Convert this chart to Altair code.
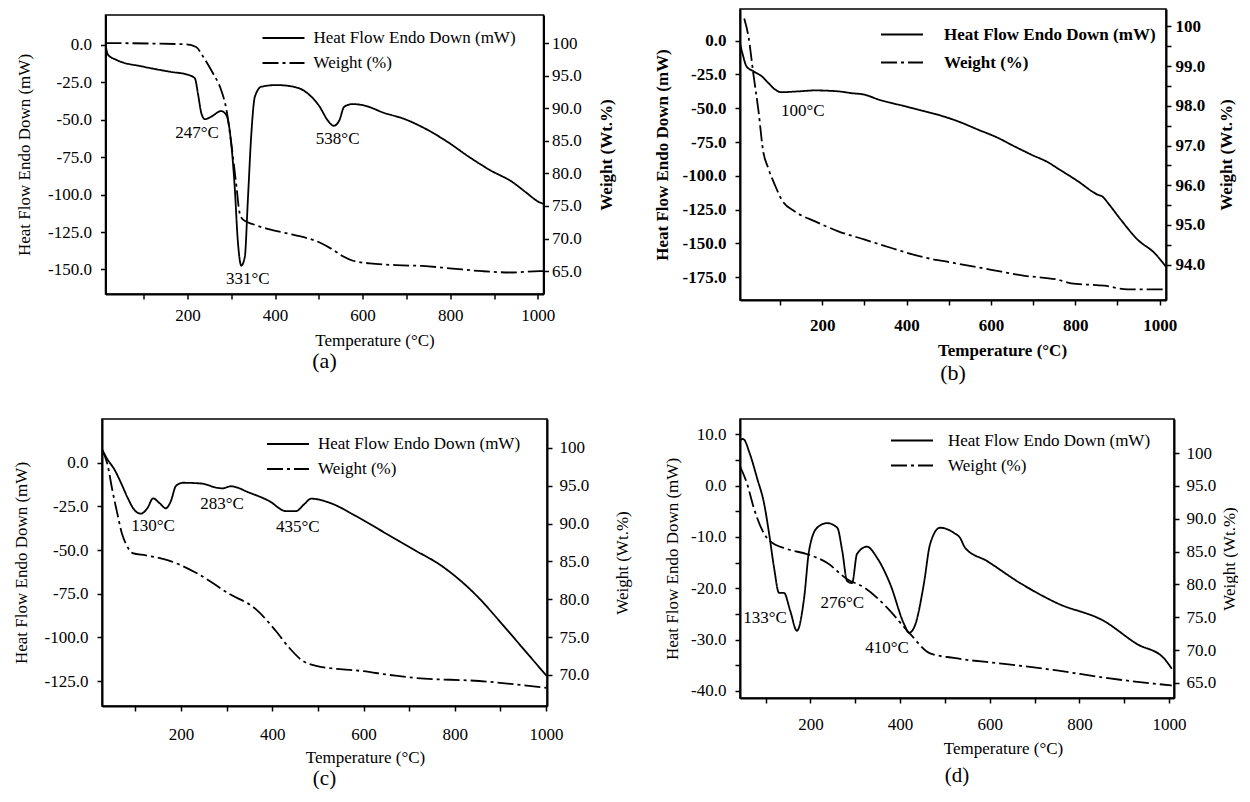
import altair as alt
import pandas as pd

FONT = "Liberation Serif"
HF_NAME = "Heat Flow Endo Down (mW)"
WT_NAME = "Weight (%)"
X_TITLE = "Temperature (°C)"
Y_LEFT_TITLE = "Heat Flow Endo Down (mW)"
Y_RIGHT_TITLE = "Weight (Wt.%)"
MINUS = "\u2212"

x_tick_values = [100, 200, 300, 400, 500, 600, 700, 800, 900, 1000]

# ---------------- panel (a) ----------------
a_hf_T = [13, 19, 38, 99, 160, 202, 217, 224, 232, 240, 254, 277, 289, 300, 308, 315, 323, 331, 338, 346,
          354, 369, 403, 448, 479, 502, 520, 534, 547, 558, 577, 600, 653, 691, 737, 794, 843, 892, 942,
          972, 1003, 1012]
a_hf_v = [0, -6.7, -10, -14.5, -17.9, -20, -22.3, -32.4, -45.8, -49.6, -48, -44.2, -46.9, -65.9, -94.9,
          -130.6, -147.4, -141.8, -103.8, -59.2, -34.6, -27.9, -26.8, -28.3, -33.5, -41.3, -50.3, -54,
          -50.3, -41.3, -39.5, -40.2, -45.8, -49, -55, -64.8, -74.8, -83.8, -91.6, -98.3, -105, -106]
a_wt_T = [13, 197, 220, 236, 258, 277, 289, 300, 312, 319, 327, 350, 388, 441, 502, 532, 555, 578, 616,
          691, 737, 805, 874, 942, 1003, 1012]
a_wt_v = [100, 99.8, 99.4, 97.9, 95.4, 92.8, 89.8, 84.7, 78, 74, 72.9, 72.2, 71.4, 70.6, 69.4, 68.3, 67.3,
          66.6, 66.2, 65.9, 65.8, 65.4, 65.0, 64.8, 65.0, 65.0]
a_ann_T = [222, 338, 543]
a_ann_v = [-58.8, -156.4, -62.8]
a_ann_text = ["247°C", "331°C", "538°C"]
a_left_ticks = [0, -25, -50, -75, -100, -125, -150]
a_right_ticks = [65, 70, 75, 80, 85, 90, 95, 100]

# ---------------- panel (b) ----------------
b_hf_T = [5, 12.5, 20, 36, 56, 72, 88, 103, 143, 183, 238, 269, 301, 333, 380, 427, 474, 522, 569, 617,
          648, 696, 735, 758, 806, 853, 865, 877, 908, 948, 988, 1014]
b_hf_v = [-2, -11.4, -18.8, -22.5, -26.2, -31.2, -36.1, -38.1, -37.5, -36.8, -37.5, -38.8, -40, -43.5,
          -47.3, -51, -54.8, -59.7, -65.8, -72, -77, -84.4, -90, -94.5, -104, -114, -115.5, -120, -132.6,
          -147.4, -157.3, -167]
b_wt_T = [15, 25, 37, 48.5, 60, 72, 88, 104, 135, 183, 238, 301, 364, 435, 514, 601, 680, 759, 790, 869,
          924, 1014]
b_wt_v = [100.2, 99.75, 98.78, 97.9, 96.85, 96.43, 96.0, 95.63, 95.34, 95.09, 94.84, 94.63, 94.42, 94.2,
          94.04, 93.87, 93.72, 93.62, 93.53, 93.47, 93.38, 93.38]
b_ann_T = [154]
b_ann_v = [-52]
b_ann_text = ["100°C"]
b_left_ticks = [0, -25, -50, -75, -100, -125, -150, -175]
b_right_ticks = [94, 94.5, 95, 95.5, 96, 96.5, 97, 97.5, 98, 98.5, 99, 99.5, 100]

# ---------------- panel (c) ----------------
c_hf_T = [27, 39, 54, 68.5, 83, 97, 112, 127, 139, 152, 167, 178, 189, 204, 247, 277, 291, 309, 350, 393,
          430, 452, 470, 485, 525, 583, 649, 715, 765, 845, 904, 948, 1001]
c_hf_v = [7.7, 1.9, -3.8, -11.5, -20, -26.7, -29.2, -25.8, -20.4, -22.9, -26.1, -21.9, -13.3, -11.5, -12,
          -14.3, -14.7, -13.5, -17.2, -21.9, -27.7, -27.7, -23.8, -20.6, -22.9, -30.5, -40.5, -50.5,
          -58, -75.4, -92.5, -105.9, -122]
c_wt_T = [27, 39, 50, 61, 71, 79.5, 94, 123, 174, 233, 306, 364, 408, 437, 466, 496, 598, 670, 715, 853,
          1001]
c_wt_v = [99.8, 97.8, 94.3, 91.2, 88.6, 87.3, 86.1, 85.8, 85.1, 83.5, 80.7, 78.7, 75.8, 73.6, 71.9, 71.2,
          70.5, 69.9, 69.6, 69.2, 68.3]
c_ann_T = [139, 290, 456]
c_ann_v = [-36.2, -23.6, -36.8]
c_ann_text = ["130°C", "283°C", "435°C"]
c_left_ticks = [0, -25, -50, -75, -100, -125]
c_right_ticks = [70, 75, 80, 85, 90, 95, 100]

# ---------------- panel (d) ----------------
d_hf_T = [43, 50, 65, 81, 97, 108, 119, 130, 141, 155, 170, 186, 197, 215, 237, 260, 271, 282, 293, 304,
          326, 349, 378, 409, 420, 433, 453, 467, 489, 520, 534, 545, 594, 668, 750, 855, 929, 988, 1006]
d_hf_v = [8.9, 9.1, 6.2, 1.5, -3.6, -9.4, -16, -20.9, -20.9, -24.4, -28.3, -21.9, -12.7, -8.2, -7.3, -8.2,
          -12.7, -18.6, -19, -13.3, -11.9, -14.1, -19.2, -27, -28.7, -27.3, -19.2, -11.4, -8.2, -9.2,
          -10.2, -12.1, -14.7, -19, -22.9, -26.4, -30.9, -33.6, -35.7]
d_wt_T = [43, 59, 74, 97, 110, 148, 193, 237, 282, 321, 372, 422, 467, 520, 632, 750, 855, 1006]
d_wt_v = [98.0, 95.3, 91.6, 87.7, 86.6, 85.4, 84.6, 83.3, 80.8, 79.5, 76.4, 72.5, 69.5, 68.8, 67.9, 66.9,
          65.8, 64.6]
d_ann_T = [99, 271, 371]
d_ann_v = [-25.8, -22.9, -31.6]
d_ann_text = ["133°C", "276°C", "410°C"]
d_left_ticks = [10, 5, 0, -5, -10, -15, -20, -25, -30, -35, -40]
d_right_ticks = [65, 70, 75, 80, 85, 90, 95, 100]


def panel(p):
    weight = p.get("weight", "normal")
    hf_df = pd.DataFrame({"T": p["hf_T"], "v": p["hf_v"], "series": HF_NAME})
    wt_df = pd.DataFrame({"T": p["wt_T"], "w": p["wt_v"], "series": WT_NAME})
    ann_df = pd.DataFrame({"T": p["ann_T"], "v": p["ann_v"], "label": p["ann_text"]})

    left_expr = ("datum.value % " + str(p["lmod"]) + " == 0 ? replace(format(datum.value, '.1f'), '"
                 + MINUS + "', '-') : ''")
    right_expr = ("datum.value == 100 ? '100' : (datum.value % " + str(p["rmod"])
                  + " == 0 ? format(datum.value, '.1f') : '')")

    x = alt.X("T:Q", scale=alt.Scale(domain=p["xdom"], nice=False, zero=False),
              axis=alt.Axis(values=x_tick_values,
                            labelExpr="datum.value % 200 == 0 ? format(datum.value, 'd') : ''",
                            title=X_TITLE, titleX=p["xt_x"], titleY=p["xt_y"], titleBaseline="middle",
                            titleAlign="center", labelPadding=p["xlp"],
                            labelFontWeight=weight, titleFontWeight=weight))
    yl = alt.Y("v:Q", scale=alt.Scale(domain=p["ldom"], nice=False, zero=False),
               axis=alt.Axis(orient="left", values=p["lticks"], labelExpr=left_expr,
                             title=Y_LEFT_TITLE, titleX=p["lt_x"], titleBaseline="middle", titleAngle=270,
                             titleAlign="center", labelPadding=9,
                             labelFontWeight=weight, titleFontWeight=weight))
    yr = alt.Y("w:Q", scale=alt.Scale(domain=p["rdom"], nice=False, zero=False),
               axis=alt.Axis(orient="right", values=p["rticks"], labelExpr=right_expr,
                             title=Y_RIGHT_TITLE, titleX=p["rt_x"], titleBaseline="middle", titleAngle=270,
                             titleAlign="center", labelPadding=p["rlp"],
                             labelFontWeight=weight, titleFontWeight=p.get("rtw", weight)))
    sd = alt.StrokeDash(
        "series:N",
        scale=alt.Scale(domain=[HF_NAME, WT_NAME], range=[[1, 0], [16, 4, 3, 4]]),
        legend=alt.Legend(title=None, orient="none", legendX=p["lx"], legendY=p["ly"], direction="vertical",
                          symbolType="stroke", symbolSize=1764, symbolStrokeWidth=2,
                          symbolStrokeColor="black", labelFont=FONT, labelFontSize=17, labelColor="black",
                          labelFontWeight=weight, labelOffset=p["loff"], rowPadding=p["lrow"],
                          clipHeight=17, padding=0, labelLimit=400))

    hf_line = alt.Chart(hf_df).mark_line(color="black", strokeWidth=1.8, interpolate="monotone",
                                         clip=True).encode(x=x, y=yl, strokeDash=sd)
    ann = alt.Chart(ann_df).mark_text(font=FONT, fontSize=17, color="black").encode(
        x=x, y=yl, text="label:N")
    wt_line = alt.Chart(wt_df).mark_line(color="black", strokeWidth=1.8, interpolate="monotone",
                                         clip=True).encode(x=x, y=yr, strokeDash=sd)
    return alt.layer(alt.layer(hf_line, ann), wt_line).resolve_scale(y="independent").properties(
        width=p["w"], height=p["h"],
        title=alt.TitleParams(p["caption"], orient="bottom", font=FONT, fontSize=p.get("cap_fs", 22),
                              fontWeight="normal", color="black", offset=p["cap_off"], anchor="middle"))


pa = panel(dict(hf_T=a_hf_T, hf_v=a_hf_v, wt_T=a_wt_T, wt_v=a_wt_v, ann_T=a_ann_T, ann_v=a_ann_v,
                ann_text=a_ann_text, xdom=[13, 1013], ldom=[-166.4, 20], rdom=[61.5, 104.3],
                lticks=a_left_ticks, rticks=a_right_ticks, lmod=25, rmod=5, w=438, h=279,
                xt_x=269, xt_y=46, xlp=8, lt_x=-81, rt_x=63, rlp=3, lx=156, ly=14.5, lrow=7, loff=8,
                caption="(a)", cap_off=3, rtw="bold"))
pb = panel(dict(hf_T=b_hf_T, hf_v=b_hf_v, wt_T=b_wt_T, wt_v=b_wt_v, ann_T=b_ann_T, ann_v=b_ann_v,
                ann_text=b_ann_text, xdom=[5, 1015], ldom=[-192, 23.5], rdom=[93.11, 100.44],
                lticks=b_left_ticks, rticks=b_right_ticks, lmod=25, rmod=1, w=426, h=291,
                xt_x=262, xt_y=50, xlp=12, lt_x=-78, rt_x=60, rlp=4, lx=140, ly=17, lrow=10, loff=20,
                caption="(b)", cap_off=5, weight="bold"))
pc = panel(dict(hf_T=c_hf_T, hf_v=c_hf_v, wt_T=c_wt_T, wt_v=c_wt_v, ann_T=c_ann_T, ann_v=c_ann_v,
                ann_text=c_ann_text, xdom=[27, 1002], ldom=[-139.3, 25], rdom=[65.9, 103.8],
                lticks=c_left_ticks, rticks=c_right_ticks, lmod=25, rmod=5, w=445, h=287,
                xt_x=263, xt_y=51, xlp=15, lt_x=-81, rt_x=75, rlp=7, lx=164, ly=16.5, lrow=7, loff=8,
                caption="(c)", cap_off=3, cap_fs=21))
pd_ = panel(dict(hf_T=d_hf_T, hf_v=d_hf_v, wt_T=d_wt_T, wt_v=d_wt_v, ann_T=d_ann_T, ann_v=d_ann_v,
                 ann_text=d_ann_text, xdom=[43, 1011], ldom=[-41.4, 13.0], rdom=[62.7, 105.2],
                 lticks=d_left_ticks, rticks=d_right_ticks, lmod=10, rmod=5, w=434, h=279,
                 xt_x=263, xt_y=50, xlp=13, lt_x=-68, rt_x=55, rlp=7, lx=150, ly=13, lrow=7, loff=14,
                 caption="(d)", cap_off=9, cap_fs=21))

chart = alt.concat(
    pa, pb, pc, pd_, columns=2, spacing={"row": 119, "column": 193}, bounds="flush", center=True
).resolve_scale(
    x="independent", y="independent", strokeDash="independent"
).resolve_legend(
    strokeDash="independent"
).properties(
    padding={"left": 3, "top": 0, "right": 0, "bottom": 0}, background="white"
).configure_view(
    stroke="black", strokeWidth=1.5
).configure_axis(
    domainColor="black", domainWidth=2, tickColor="black", tickWidth=1.5, tickSize=5,
    labelFont=FONT, labelFontSize=17, labelColor="black", titleFont=FONT, titleFontSize=17,
    titleColor="black", titleFontWeight="normal", grid=False, labelFlush=False, labelOverlap=False,
    labelBound=False
)

chart.save("out.html", embed_options={"renderer": "svg", "actions": False})
